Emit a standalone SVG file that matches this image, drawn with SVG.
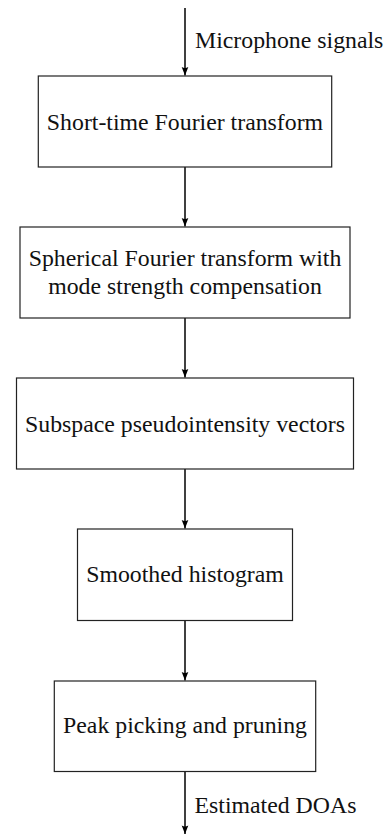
<svg xmlns="http://www.w3.org/2000/svg" width="385" height="835" viewBox="0 0 385 835">
  <defs>
    <marker id="arrow" markerUnits="userSpaceOnUse" markerWidth="12" markerHeight="10" viewBox="-10 -5 12 10" refX="0" refY="0" orient="auto">
      <path d="M0,0 L-8.5,-3.3 Q-6.5,0 -8.5,3.3 Z" fill="#000"/>
    </marker>
    <style>
      .box { fill: #fff; stroke: #222; stroke-width: 1.2; }
      .txt { font-family: "Liberation Serif", "Times New Roman", serif; font-size: 23.8px; fill: #111; }
      .mid { text-anchor: middle; }
      .edge { stroke: #000; stroke-width: 1.5; fill: none; marker-end: url(#arrow); }
    </style>
  </defs>
  <rect width="385" height="835" fill="#fff"/>

  <g id="connectors">
    <line class="edge" x1="185" y1="8" x2="185" y2="75.5"/>
    <line class="edge" x1="185" y1="167" x2="185" y2="226.5"/>
    <line class="edge" x1="185" y1="318" x2="185" y2="377.5"/>
    <line class="edge" x1="185" y1="469" x2="185" y2="528.5"/>
    <line class="edge" x1="185" y1="620.5" x2="185" y2="680.5"/>
    <line class="edge" x1="185" y1="771.5" x2="185" y2="834"/>
    <text class="txt" x="195" y="48">Microphone signals</text>
    <text class="txt" x="194.5" y="813">Estimated DOAs</text>
  </g>

  <g id="stft">
    <rect class="box" x="38.3" y="76" width="293.4" height="91"/>
    <text class="txt mid" x="185" y="130">Short-time Fourier transform</text>
  </g>

  <g id="sft">
    <rect class="box" x="20" y="227" width="330" height="91"/>
    <text class="txt mid" x="185" y="266">Spherical Fourier transform with</text>
    <text class="txt mid" x="185" y="294">mode strength compensation</text>
  </g>

  <g id="spiv">
    <rect class="box" x="16.5" y="378" width="337" height="91"/>
    <text class="txt mid" x="185" y="431.5">Subspace pseudointensity vectors</text>
  </g>

  <g id="histogram">
    <rect class="box" x="77.5" y="529" width="215" height="91.5"/>
    <text class="txt mid" x="185" y="582">Smoothed histogram</text>
  </g>

  <g id="peak">
    <rect class="box" x="54.3" y="681" width="261.4" height="90.5"/>
    <text class="txt mid" x="185" y="733">Peak picking and pruning</text>
  </g>
</svg>
